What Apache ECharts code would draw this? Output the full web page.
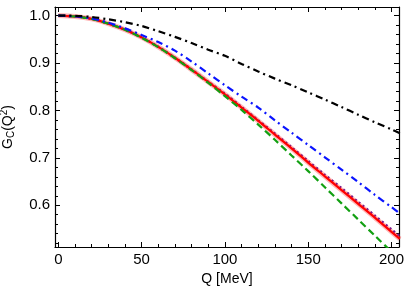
<!DOCTYPE html>
<html>
<head>
<meta charset="utf-8">
<script src="https://cdn.jsdelivr.net/npm/echarts@6/dist/echarts.min.js"></script>
<style>html,body{margin:0;padding:0;background:#fff}#c{width:406px;height:292px}</style>
</head>
<body>
<div id="c"></div>
<script>
var Q = [0,10,20,30,40,50,60,70,80,90,100,110,120,130,140,150,160,170,180,190,200,205];
var redCurve    = [1.000,0.998,0.993,0.983,0.970,0.954,0.934,0.911,0.886,0.860,0.834,0.806,0.778,0.749,0.720,0.690,0.661,0.632,0.603,0.574,0.544,0.529];
var purpleCurve = [1.000,0.998,0.993,0.983,0.970,0.954,0.934,0.911,0.886,0.860,0.835,0.807,0.779,0.751,0.722,0.693,0.664,0.636,0.607,0.578,0.549,0.535];
var greenCurve  = [1.000,0.998,0.993,0.983,0.970,0.953,0.933,0.910,0.885,0.858,0.830,0.801,0.770,0.738,0.705,0.672,0.638,0.604,0.570,0.536,0.502,0.485];
var blueCurve   = [1.000,0.998,0.994,0.985,0.973,0.959,0.944,0.926,0.903,0.878,0.853,0.829,0.806,0.779,0.753,0.727,0.701,0.675,0.649,0.622,0.596,0.583];
var blackCurve  = [1.000,0.9995,0.997,0.992,0.986,0.978,0.967,0.955,0.942,0.928,0.915,0.898,0.882,0.867,0.853,0.838,0.823,0.807,0.791,0.775,0.760,0.752];
var xMajor = [0,50,100,150,200];
var xMinor = [10,20,30,40,60,70,80,90,110,120,130,140,160,170,180,190];
var yMajor = [0.6,0.7,0.8,0.9,1.0];
var yMinor = [0.52,0.54,0.56,0.58,0.62,0.64,0.66,0.68,0.72,0.74,0.76,0.78,0.82,0.84,0.86,0.88,0.92,0.94,0.96,0.98];
var xLabels = ['0','50','100','150','200'];
var yLabels = ['0.6','0.7','0.8','0.9','1.0'];
var yTitle = '{a|G}{s|C}{a|(Q}{p|2}{a|)}';

var XMIN = -2, XMAX = 204.5, YMIN = 0.512, YMAX = 1.018;
var FONT = 'Liberation Sans';

function pairs(ys){ return Q.map(function(q,i){ return [q, ys[i]]; }); }

function xAx(pos, ticks, len, major, showLine){
  return {
    type:'value', position:pos, min:XMIN, max:XMAX,
    axisLine:{show:showLine, onZero:false, lineStyle:{color:'#000', width:1.2}},
    axisTick:{show:true, inside:true, length:len, customValues:ticks, lineStyle:{color:'#000', width:1}},
    axisLabel:{show:major, customValues:ticks, formatter:function(v){ return xLabels[xMajor.indexOf(v)] || ''; },
      color:'#000', fontFamily:FONT, fontSize:15, margin:5},
    splitLine:{show:false}
  };
}
function yAx(pos, ticks, len, major, showLine){
  return {
    type:'value', position:pos, min:YMIN, max:YMAX,
    axisLine:{show:showLine, onZero:false, lineStyle:{color:'#000', width:1.2}},
    axisTick:{show:true, inside:true, length:len, customValues:ticks, lineStyle:{color:'#000', width:1}},
    axisLabel:{show:major, customValues:ticks, formatter:function(v){
        var i = yMajor.findIndex(function(m){ return Math.abs(m-v)<1e-6; }); return i>=0 ? yLabels[i] : ''; },
      color:'#000', fontFamily:FONT, fontSize:15, margin:5},
    splitLine:{show:false}
  };
}

var xAxes = [xAx('bottom', xMajor, 5, true, true), xAx('bottom', xMinor, 3, false, false),
             xAx('top', xMajor, 5, false, true), xAx('top', xMinor, 3, false, false)];
xAxes[0].name = 'Q [MeV]';
xAxes[0].nameLocation = 'middle';
xAxes[0].nameGap = 19;
xAxes[0].nameTextStyle = {color:'#000', fontFamily:FONT, fontSize:14};
var yAxes = [yAx('left', yMajor, 5, true, true), yAx('left', yMinor, 3, false, false),
             yAx('right', yMajor, 5, false, true), yAx('right', yMinor, 3, false, false)];
yAxes[0].name = yTitle;
yAxes[0].nameLocation = 'middle';
yAxes[0].nameRotate = 90;
yAxes[0].nameGap = 30;
yAxes[0].nameTextStyle = {
  color:'#000', fontFamily:FONT, fontSize:14,
  rich:{
    a:{fontFamily:FONT, fontSize:14, color:'#000', lineHeight:20, verticalAlign:'middle'},
    s:{fontFamily:FONT, fontSize:10, color:'#000', lineHeight:20, verticalAlign:'bottom', padding:[0,0,2,0]},
    p:{fontFamily:FONT, fontSize:10, color:'#000', lineHeight:20, verticalAlign:'top', padding:[1,0,0,0]}
  }
};

function line(data, color, width, type, opacity, z){
  return {type:'line', data:pairs(data), xAxisIndex:0, yAxisIndex:0, showSymbol:false, smooth:0.3,
    clip:true, silent:true, z:z,
    lineStyle:{color:color, width:width, type:type, opacity:opacity}};
}

var chart = echarts.init(document.getElementById('c'), null, {renderer:'canvas'});
chart.setOption({
  animation:false,
  backgroundColor:'#fff',
  grid:{left:55, right:7, top:7, bottom:45, containLabel:false, outerBoundsMode:'none'},
  xAxis:xAxes,
  yAxis:yAxes,
  series:[
    line(redCurve, '#ff6060', 5, 'solid', 0.45, 2),
    line(purpleCurve, '#7a1a8c', 2.5, [2,3], 1, 3),
    line(redCurve, '#ff0000', 2.2, 'solid', 1, 4),
    line(greenCurve, '#12a012', 2.2, [7,4], 1, 5),
    line(blueCurve, '#0a14ff', 2.2, [7,4,2,4], 1, 6),
    line(blackCurve, '#000000', 2.2, [7,4,2,4], 1, 7)
  ]
});
</script>
</body>
</html>
